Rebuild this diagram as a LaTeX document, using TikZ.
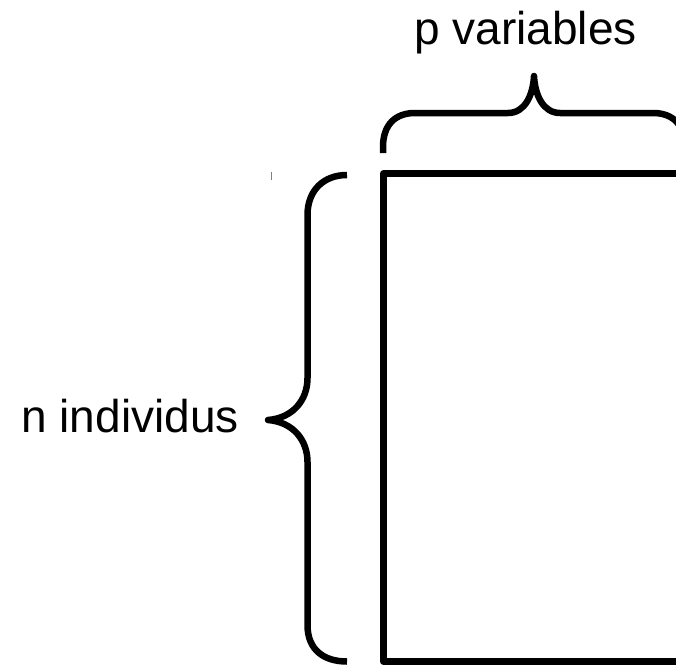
\documentclass[tikz,border=0pt]{standalone}
\usepackage{fontspec}
\setmainfont{Liberation Sans}
\begin{document}
\begin{tikzpicture}[x=1pt,y=-1pt,
  thick line/.style={line width=6.5pt, line join=round},
  label text/.style={font=\fontsize{46}{52}\selectfont, inner sep=0pt, anchor=base}]
\useasboundingbox (0,0) rectangle (676,666);
\clip (0,0) rectangle (676,666);
% matrix rectangle (right side extends beyond the picture)
\draw[thick line] (720,173.5) -- (383.3,173.5) -- (383.3,661.5) -- (720,661.5);
% top brace
\draw[thick line] (383,153) -- (383,147) .. controls (383,125) and (395,113) .. (415,113) -- (508,113) .. controls (525,113) and (533,95) .. (534,76) .. controls (535,95) and (543,113) .. (560,113) -- (653,113) .. controls (673,113) and (685,125) .. (685,147) -- (685,153);
% left brace
\draw[thick line] (347,175) .. controls (324,175) and (307.5,190) .. (307.5,215) -- (307.5,378) .. controls (307.5,400) and (293,418) .. (268,420) .. controls (293,422) and (307.5,440) .. (307.5,462) -- (307.5,625) .. controls (307.5,650) and (324,661.5) .. (347,661.5);
% small tick
\draw[line width=1pt, gray] (271,172) -- (271,180);
\node[label text] (pvar) at (525.5,45) {p variables};
\node[label text] (nind) at (130,432) {n individus};
\end{tikzpicture}
\end{document}
